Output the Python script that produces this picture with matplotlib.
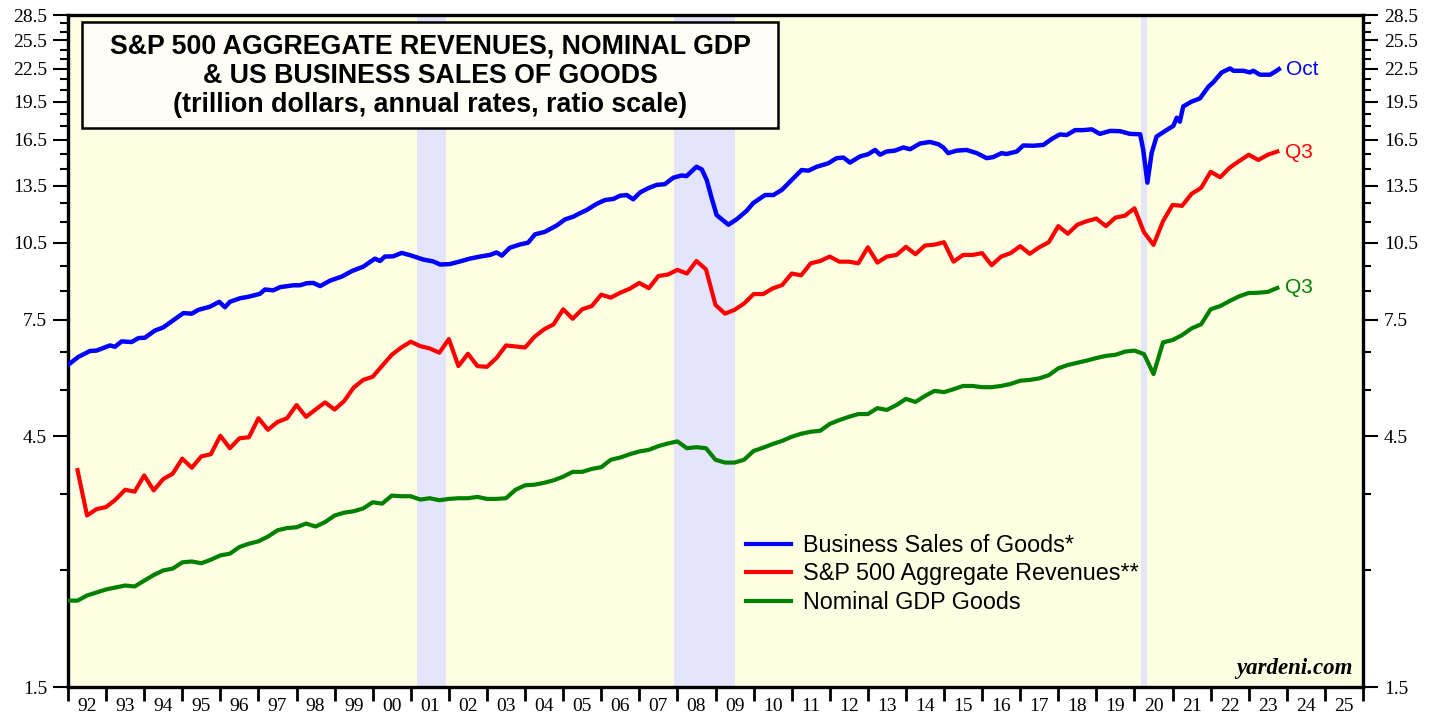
import numpy as np
import matplotlib
matplotlib.use("Agg")
import matplotlib.pyplot as plt
from matplotlib.patches import Rectangle
from matplotlib.ticker import FixedLocator, FixedFormatter, NullFormatter

# Business sales of goods (trillion $, annual rate)
sales_t = [1992.00, 1992.27, 1992.58, 1992.75, 1993.10, 1993.23, 1993.41, 1993.67, 1993.85,
           1994.02, 1994.28, 1994.50, 1994.72, 1995.03, 1995.25, 1995.42, 1995.73, 1995.97,
           1996.12, 1996.25, 1996.52, 1996.73, 1997.04, 1997.17, 1997.39, 1997.57, 1997.92,
           1998.09, 1998.27, 1998.44, 1998.62, 1998.88, 1999.19, 1999.45, 1999.75, 2000.06,
           2000.19, 2000.32, 2000.54, 2000.76, 2000.98, 2001.20, 2001.33, 2001.59, 2001.77,
           2002.03, 2002.29, 2002.55, 2002.82, 2003.08, 2003.25, 2003.39, 2003.60, 2003.87,
           2004.08, 2004.26, 2004.52, 2004.83, 2005.05, 2005.27, 2005.40, 2005.62, 2005.88,
           2006.10, 2006.32, 2006.49, 2006.67, 2006.84, 2007.02, 2007.24, 2007.46, 2007.67,
           2007.89, 2008.11, 2008.24, 2008.50, 2008.64, 2008.77, 2008.90, 2009.03, 2009.16,
           2009.34, 2009.56, 2009.82, 2009.99, 2010.30, 2010.52, 2010.74, 2011.04, 2011.26,
           2011.44, 2011.66, 2011.96, 2012.18, 2012.36, 2012.53, 2012.79, 2013.01, 2013.19,
           2013.32, 2013.49, 2013.71, 2013.93, 2014.11, 2014.37, 2014.63, 2014.85, 2014.98,
           2015.11, 2015.33, 2015.59, 2015.86, 2016.12, 2016.29, 2016.51, 2016.64, 2016.91,
           2017.08, 2017.34, 2017.61, 2017.83, 2018.04, 2018.22, 2018.44, 2018.66, 2018.88,
           2019.09, 2019.36, 2019.62, 2019.88, 2020.15, 2020.23, 2020.34, 2020.45, 2020.58,
           2020.84, 2021.02, 2021.11, 2021.19, 2021.28, 2021.50, 2021.72, 2021.94, 2022.07,
           2022.29, 2022.51, 2022.60, 2022.86, 2023.03, 2023.12, 2023.29, 2023.56, 2023.73,
           2023.79]
sales_v = [6.15, 6.37, 6.54, 6.55, 6.70, 6.66, 6.82, 6.80, 6.92,
           6.93, 7.15, 7.25, 7.44, 7.72, 7.70, 7.83, 7.94, 8.11,
           7.92, 8.11, 8.24, 8.29, 8.40, 8.56, 8.53, 8.65, 8.72,
           8.72, 8.80, 8.81, 8.69, 8.90, 9.06, 9.28, 9.46, 9.80,
           9.70, 9.89, 9.90, 10.05, 9.95, 9.83, 9.76, 9.68, 9.55,
           9.57, 9.68, 9.80, 9.89, 9.96, 10.07, 9.93, 10.28, 10.43,
           10.51, 10.90, 11.02, 11.33, 11.64, 11.78, 11.92, 12.13, 12.46,
           12.67, 12.73, 12.91, 12.95, 12.71, 13.10, 13.35, 13.54, 13.58,
           13.97, 14.11, 14.07, 14.66, 14.49, 13.83, 12.77, 11.86, 11.65,
           11.37, 11.65, 12.09, 12.50, 12.95, 12.95, 13.24, 13.92, 14.45,
           14.41, 14.66, 14.88, 15.22, 15.26, 14.93, 15.33, 15.49, 15.78,
           15.45, 15.67, 15.73, 15.95, 15.83, 16.23, 16.34, 16.18, 15.95,
           15.56, 15.73, 15.78, 15.56, 15.22, 15.29, 15.56, 15.50, 15.67,
           16.09, 16.07, 16.13, 16.56, 16.89, 16.84, 17.21, 17.21, 17.27,
           16.93, 17.15, 17.13, 16.93, 16.90, 15.78, 13.67, 15.56, 16.73,
           17.21, 17.53, 18.17, 17.86, 19.09, 19.50, 19.78, 20.81, 21.23,
           22.16, 22.55, 22.32, 22.32, 22.16, 22.32, 21.94, 21.94, 22.32,
           22.48]

# S&P 500 aggregate revenues, quarterly, 1992 Q1 .. 2023 Q3 (plotted at quarter end)
revenues = [3.88, 3.18, 3.27, 3.30, 3.41, 3.56, 3.53, 3.79, 3.55, 3.73, 3.82, 4.08,
            3.92, 4.12, 4.16, 4.51, 4.27, 4.46, 4.48, 4.87, 4.63, 4.79, 4.87, 5.16,
            4.90, 5.06, 5.22, 5.06, 5.25, 5.57, 5.76, 5.84, 6.13, 6.43, 6.64, 6.81,
            6.68, 6.61, 6.49, 6.89, 6.12, 6.46, 6.12, 6.10, 6.34, 6.70, 6.67, 6.64,
            6.96, 7.19, 7.35, 7.85, 7.53, 7.85, 7.96, 8.37, 8.26, 8.44, 8.59, 8.81,
            8.61, 9.08, 9.14, 9.33, 9.18, 9.70, 9.35, 8.00, 7.70, 7.83, 8.05, 8.39,
            8.39, 8.60, 8.73, 9.18, 9.11, 9.60, 9.70, 9.89, 9.67, 9.67, 9.60, 10.30,
            9.63, 9.89, 9.96, 10.32, 9.99, 10.38, 10.42, 10.53, 9.67, 9.96, 9.96, 10.04,
            9.52, 9.89, 10.04, 10.35, 10.01, 10.30, 10.53, 11.30, 10.93, 11.37, 11.55, 11.68,
            11.30, 11.73, 11.83, 12.22, 11.00, 10.41, 11.55, 12.40, 12.35, 13.02, 13.36, 14.34,
            14.00, 14.60, 15.03, 15.45, 15.10, 15.45, 15.67]
rev_start = 1992.25

# Nominal GDP goods, quarterly, 1991 Q4 .. 2023 Q3 (plotted at quarter end)
gdp = [2.19, 2.19, 2.24, 2.27, 2.30, 2.32, 2.34, 2.33, 2.39, 2.45, 2.50, 2.52,
       2.59, 2.60, 2.58, 2.62, 2.67, 2.69, 2.77, 2.81, 2.84, 2.90, 2.98, 3.01,
       3.02, 3.07, 3.03, 3.09, 3.18, 3.22, 3.24, 3.28, 3.37, 3.35, 3.47, 3.46,
       3.46, 3.41, 3.43, 3.40, 3.42, 3.43, 3.43, 3.45, 3.42, 3.42, 3.43, 3.56,
       3.63, 3.64, 3.67, 3.71, 3.77, 3.85, 3.85, 3.90, 3.93, 4.06, 4.10, 4.16,
       4.21, 4.24, 4.31, 4.36, 4.40, 4.27, 4.29, 4.27, 4.06, 4.01, 4.01, 4.06,
       4.22, 4.28, 4.35, 4.41, 4.49, 4.55, 4.59, 4.61, 4.75, 4.83, 4.90, 4.96,
       4.96, 5.09, 5.05, 5.16, 5.30, 5.23, 5.37, 5.49, 5.46, 5.53, 5.61, 5.61,
       5.58, 5.58, 5.61, 5.66, 5.74, 5.76, 5.80, 5.88, 6.06, 6.15, 6.21, 6.27,
       6.34, 6.40, 6.43, 6.52, 6.55, 6.45, 5.91, 6.79, 6.86, 7.01, 7.22, 7.35,
       7.85, 7.96, 8.14, 8.31, 8.43, 8.44, 8.47, 8.62]
gdp_start = 1992.0

recessions = [(2001.17, 2001.92), (2007.92, 2009.50), (2020.17, 2020.34)]
y_major = [1.5, 4.5, 7.5, 10.5, 13.5, 16.5, 19.5, 22.5, 25.5, 28.5]
y_minor = [v + d for v in y_major[:-1] for d in (1.0, 2.0)]
years = list(range(1992, 2026))

rev_t = rev_start + 0.25 * np.arange(len(revenues))
gdp_t = gdp_start + 0.25 * np.arange(len(gdp))

SANS = "Liberation Sans"
SERIF = "Liberation Serif"

fig = plt.figure(figsize=(14.39, 7.19), dpi=100)
ax = fig.add_axes([68 / 1439, 1 - 687 / 719, 1295 / 1439, 672 / 719])
ax.set_facecolor("#FEFEE3")

for a, b in recessions:
    ax.axvspan(a, b, color="#E4E4FA", lw=0, zorder=1)

ax.plot(sales_t, sales_v, color="#0000FF", lw=3.2, zorder=3, label="Business Sales of Goods*")
ax.plot(rev_t, revenues, color="#FF0000", lw=3.0, zorder=3, label="S&P 500 Aggregate Revenues**")
ax.plot(gdp_t, gdp, color="#008000", lw=3.0, zorder=3, label="Nominal GDP Goods")

ax.set_yscale("log")
ax.set_ylim(1.5, 28.5)
ax.set_xlim(years[0], years[-1] + 1)

ax.yaxis.set_major_locator(FixedLocator(y_major))
ax.yaxis.set_major_formatter(FixedFormatter([f"{v:.1f}" for v in y_major]))
ax.yaxis.set_minor_locator(FixedLocator(y_minor))
ax.yaxis.set_minor_formatter(NullFormatter())
ax.tick_params(axis="y", which="both", left=True, right=True, labelleft=True, labelright=True,
               direction="out", width=1.5, labelsize=14, pad=4)
ax.tick_params(axis="y", which="major", length=11)
ax.tick_params(axis="y", which="minor", length=5.5)

ax.xaxis.set_major_locator(FixedLocator(years + [years[-1] + 1]))
ax.xaxis.set_major_formatter(NullFormatter())
ax.xaxis.set_minor_locator(FixedLocator([y + 0.5 for y in years]))
ax.xaxis.set_minor_formatter(FixedFormatter([f"{y % 100:02d}" for y in years]))
ax.tick_params(axis="x", which="major", direction="out", length=10, width=2)
ax.tick_params(axis="x", which="minor", length=0, labelsize=14, pad=8)

for lab in ax.get_xticklabels(which="both") + ax.get_yticklabels(which="both"):
    lab.set_fontfamily(SERIF)

for s in ax.spines.values():
    s.set_linewidth(2.4)

# title box
fig.patches.append(Rectangle((82 / 1439, 1 - 128 / 719), 696 / 1439, 106 / 719,
                             transform=fig.transFigure, facecolor="#FEFEF6",
                             edgecolor="black", lw=1.8, zorder=5))
title_lines = ["S&P 500 AGGREGATE REVENUES, NOMINAL GDP",
               "& US BUSINESS SALES OF GOODS",
               "(trillion dollars, annual rates, ratio scale)"]
for i, line in enumerate(title_lines):
    fig.text(430 / 1439, 1 - (47 + 29 * i) / 719, line, ha="center", va="center",
             fontsize=19.3, fontweight="bold", family=SANS, zorder=6)

# end-of-series labels
ax.text(sales_t[-1] + 0.2, 22.4, "Oct", color="#0000FF", fontsize=15, family=SANS, va="center")
ax.text(rev_t[-1] + 0.2, 15.6, "Q3", color="#FF0000", fontsize=15, family=SANS, va="center")
ax.text(gdp_t[-1] + 0.2, 8.62, "Q3", color="#008000", fontsize=15, family=SANS, va="center")

leg = ax.legend(loc="upper left", bbox_to_anchor=(734 / 1439, 1 - 522 / 719),
                bbox_transform=fig.transFigure, frameon=False, borderpad=0,
                handlelength=1.95, handletextpad=0.5, labelspacing=0.24,
                prop={"family": SANS, "size": 16.8})
for h in leg.get_lines():
    h.set_linewidth(3.0)

ax.text(0.992, 0.012, "yardeni.com", transform=ax.transAxes, ha="right", va="bottom",
        fontsize=16.5, fontweight="bold", fontstyle="italic", family=SERIF)

fig.savefig("out.png", dpi=100)
